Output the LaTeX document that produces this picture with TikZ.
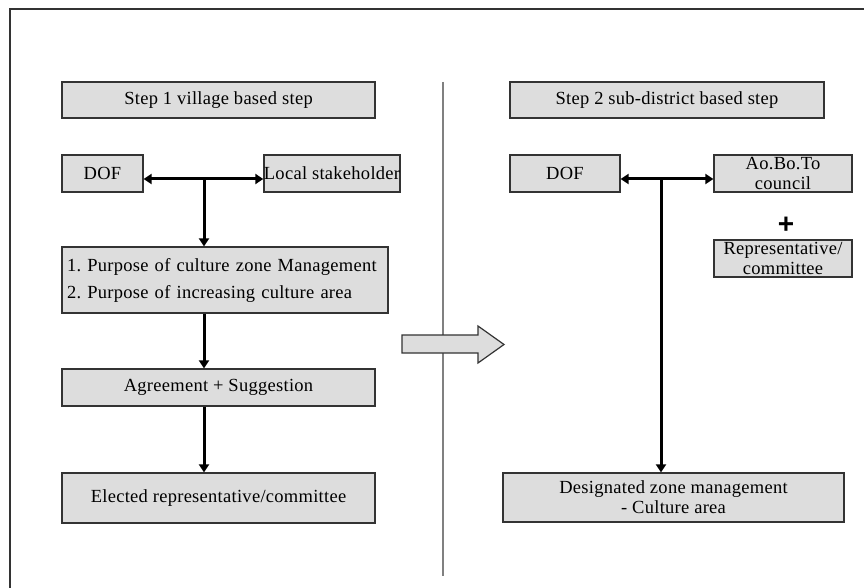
\documentclass[tikz,border=0pt]{standalone}
\usepackage{fontspec}
\setmainfont[LetterSpace=1.5]{Liberation Serif}
\newfontfamily\plusfont{Liberation Sans}
\usetikzlibrary{arrows.meta}
\definecolor{boxfill}{HTML}{DDDDDD}
\definecolor{edge}{HTML}{333333}
\frenchspacing
\begin{document}
\begin{tikzpicture}[x=1pt,y=-1pt,
  box/.style={draw=edge, line width=1.2pt, fill=boxfill, inner sep=0pt, align=center,
              font=\fontsize{18.5}{20}\selectfont},
  conn/.style={line width=3pt, draw=black, -{Triangle[length=8pt,width=10pt]}},
  divider/.style={draw=gray, line width=1.5pt},
  frame/.style={draw=edge, line width=2pt}]
\useasboundingbox (0,0) rectangle (864,588);
% frame (only top and left visible)
\draw[frame] (864,9) -- (10,9) -- (10,588);
% divider
\draw[divider] (443,82) -- (443,576);
% left column
\node[box, minimum width=313pt, minimum height=36pt] (s1) at (218.5,100) {Step 1 village based step};
\node[box, minimum width=81pt, minimum height=37pt] (dofL) at (102.5,173.5) {DOF};
\node[box, minimum width=134pt, minimum height=37pt] (loc) at (332,173.5) {Local stakeholder};
\node[box, text width=316pt, inner xsep=5pt, align=left, minimum height=66pt,
      font=\fontsize{18.5}{27}\selectfont] (purp) at (225,280)
      {1. Purpose of culture zone Management\\2. Purpose of increasing culture area};
\node[box, minimum width=313pt, minimum height=37pt] (agree) at (218.5,387.5) {Agreement + Suggestion};
\node[box, minimum width=313pt, minimum height=50pt] (elect) at (218.5,498) {Elected representative/committee};
\coordinate (jL) at (204,179);
\draw[conn] (jL) -- (dofL.east |- jL);
\draw[conn] (jL) -- (loc.west |- jL);
\draw[conn] ([yshift=1.5pt]jL) -- (jL |- purp.north);
\draw[conn] (purp.south -| jL) -- (agree.north -| jL);
\draw[conn] (agree.south -| jL) -- (elect.north -| jL);
% big arrow
\draw[draw=edge, line width=1.2pt, fill=boxfill]
  (402,335) -- (478,335) -- (478,326) -- (504,344.5) -- (478,363) -- (478,353) -- (402,353) -- cycle;
% right column
\node[box, minimum width=314pt, minimum height=36pt] (s2) at (667,100) {Step 2 sub-district based step};
\node[box, minimum width=110pt, minimum height=37pt] (dofR) at (565,173.5) {DOF};
\node[box, minimum width=138pt, minimum height=37pt] (ao) at (783,173.5) {Ao.Bo.To\\council};
\node[font=\fontsize{28}{28}\plusfont\bfseries] (plus) at (786,225) {+};
\node[box, minimum width=138pt, minimum height=37pt] (rep) at (783,258.5) {Representative/\\committee};
\node[box, minimum width=341pt, minimum height=49pt] (des) at (673.5,497.5) {Designated zone management\\- Culture area};
\coordinate (jR) at (661,179);
\draw[conn] (jR) -- (dofR.east |- jR);
\draw[conn] (jR) -- (ao.west |- jR);
\draw[conn] ([yshift=1.5pt]jR) -- (jR |- des.north);
\end{tikzpicture}
\end{document}
